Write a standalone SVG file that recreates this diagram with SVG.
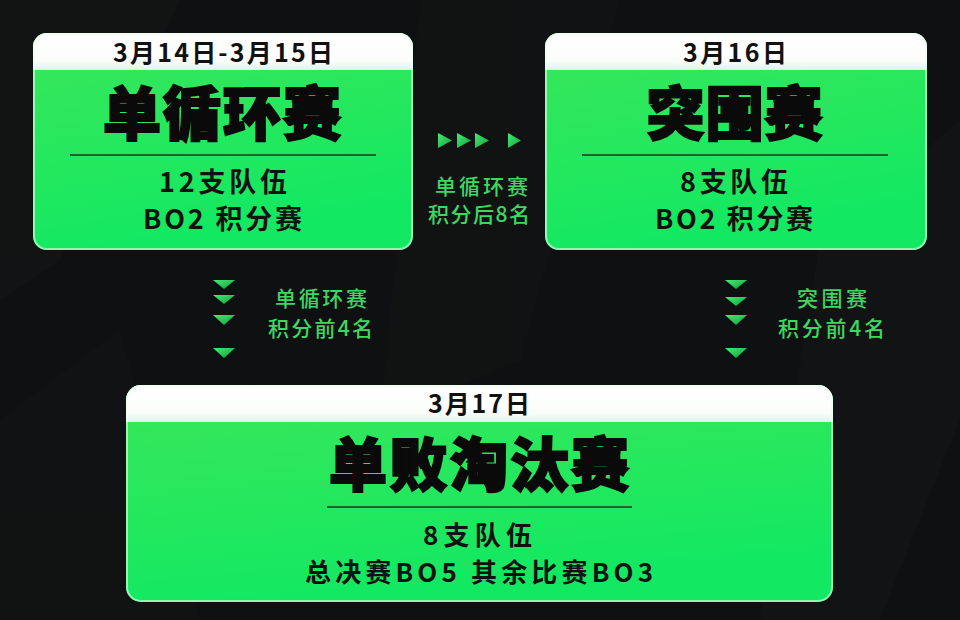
<svg xmlns="http://www.w3.org/2000/svg" width="960" height="620" viewBox="0 0 960 620">
<defs>
<linearGradient id="gfill" x1="0" y1="0" x2="0.3" y2="1">
<stop offset="0" stop-color="#3be65a"/>
<stop offset="0.6" stop-color="#22e85e"/>
<stop offset="1" stop-color="#12e862"/>
</linearGradient>
<linearGradient id="hdr" x1="0" y1="0" x2="0" y2="1">
<stop offset="0" stop-color="#ffffff"/>
<stop offset="0.75" stop-color="#fbfdfb"/>
<stop offset="1" stop-color="#e2f2e4"/>
</linearGradient>
<linearGradient id="tri" x1="0" y1="0" x2="1" y2="1">
<stop offset="0" stop-color="#3ef070"/>
<stop offset="1" stop-color="#1a9a40"/>
</linearGradient>
<clipPath id="c1"><rect x="33" y="33" width="380" height="217" rx="14"/></clipPath>
<clipPath id="c2"><rect x="545" y="33" width="382" height="217" rx="14"/></clipPath>
<clipPath id="c3"><rect x="126" y="385" width="707" height="217" rx="15"/></clipPath>
</defs>
<style>
.box{fill:url(#gfill);}
.edge{fill:none;stroke:#eafff0;stroke-opacity:0.6;stroke-width:2;}
.hd{fill:url(#hdr);}
.date{font-family:"Noto Sans CJK SC","Noto Sans",sans-serif;font-weight:700;font-size:25px;fill:#111;text-anchor:middle;}
.title{font-family:"Noto Sans CJK SC",sans-serif;font-weight:900;font-size:58px;fill:#0a0a0a;stroke:#0a0a0a;stroke-width:2.2;paint-order:stroke;text-anchor:middle;}
.sub{font-family:"Noto Sans CJK SC","Noto Sans",sans-serif;font-weight:700;font-size:27px;fill:#111;text-anchor:middle;}
.rule{stroke:#1a3a20;stroke-width:1.5;}
.lbl{font-family:"Noto Sans CJK SC","Noto Sans",sans-serif;font-weight:500;font-size:21px;fill:#3cd860;text-anchor:middle;}
.tri{fill:url(#tri);}
</style>
<rect width="960" height="620" fill="#0f1011"/>
<g opacity="0.5">
<polygon points="0,0 180,0 60,260 0,300" fill="#161718"/>
<polygon points="420,0 620,0 520,360 380,420" fill="#141516"/>
<polygon points="820,240 960,120 960,420 880,620 760,620" fill="#151617"/>
<polygon points="0,420 120,330 200,620 0,620" fill="#141516"/>
</g>

<g id="node-round-robin">
<rect class="box" x="33" y="33" width="380" height="217" rx="14"/>
<g clip-path="url(#c1)"><rect class="hd" x="33" y="33" width="380" height="37"/></g>
<rect class="edge" x="34" y="34" width="378" height="215" rx="13"/>
<text class="date" x="223" y="61.5" textLength="220" lengthAdjust="spacing">3月14日-3月15日</text>
<text class="title" x="222" y="135" textLength="238" lengthAdjust="spacing">单循环赛</text>
<line class="rule" x1="70" y1="155" x2="376" y2="155"/>
<text class="sub" x="223" y="192" textLength="128" lengthAdjust="spacing">12支队伍</text>
<text class="sub" x="222.5" y="229" textLength="159" lengthAdjust="spacing">BO2 积分赛</text>
</g>

<g id="node-breakout">
<rect class="box" x="545" y="33" width="382" height="217" rx="14"/>
<g clip-path="url(#c2)"><rect class="hd" x="545" y="33" width="382" height="37"/></g>
<rect class="edge" x="546" y="34" width="380" height="215" rx="13"/>
<text class="date" x="735" y="61.5" textLength="104" lengthAdjust="spacing">3月16日</text>
<text class="title" x="734.5" y="135" textLength="176" lengthAdjust="spacing">突围赛</text>
<line class="rule" x1="582" y1="155" x2="888" y2="155"/>
<text class="sub" x="734" y="192" textLength="108" lengthAdjust="spacing">8支队伍</text>
<text class="sub" x="734" y="229" textLength="158" lengthAdjust="spacing">BO2 积分赛</text>
</g>

<g id="node-elimination">
<rect class="box" x="126" y="385" width="707" height="217" rx="15"/>
<g clip-path="url(#c3)"><rect class="hd" x="126" y="385" width="707" height="37"/></g>
<rect class="edge" x="127" y="386" width="705" height="215" rx="14"/>
<text class="date" x="479" y="413" textLength="102" lengthAdjust="spacing">3月17日</text>
<text class="title" x="479" y="486" textLength="300" lengthAdjust="spacing">单败淘汰赛</text>
<line class="rule" x1="327" y1="507" x2="632" y2="507"/>
<text class="sub" x="477.5" y="545" textLength="109" lengthAdjust="spacing" style="font-size:26px">8支队伍</text>
<text class="sub" x="479" y="581.5" textLength="348" lengthAdjust="spacing" style="font-size:26px">总决赛BO5 其余比赛BO3</text>
</g>

<g id="connectors">
<g id="conn-rr-breakout">
<polygon class="tri" points="438,133 452,140.5 438,148"/>
<polygon class="tri" points="457,133 471,140.5 457,148"/>
<polygon class="tri" points="475,133 489,140.5 475,148"/>
<polygon class="tri" points="508,133 521,140.5 508,148"/>
<text class="lbl" x="481.5" y="194" textLength="93" lengthAdjust="spacing">单循环赛</text>
<text class="lbl" x="479" y="221.5" textLength="102" lengthAdjust="spacing">积分后8名</text>
</g>
<g id="conn-rr-elim">
<polygon class="tri" points="213,280 235,280 224,289"/>
<polygon class="tri" points="213,295 235,295 224,304"/>
<polygon class="tri" points="213,315 235,315 224,325"/>
<polygon class="tri" points="213,348 235,348 224,358"/>
<text class="lbl" x="321" y="306" textLength="92" lengthAdjust="spacing">单循环赛</text>
<text class="lbl" x="320.5" y="336" textLength="105" lengthAdjust="spacing">积分前4名</text>
</g>
<g id="conn-breakout-elim">
<polygon class="tri" points="725,280 747,280 736,289"/>
<polygon class="tri" points="725,297 747,297 736,306"/>
<polygon class="tri" points="725,315 747,315 736,325"/>
<polygon class="tri" points="725,348 747,348 736,358"/>
<text class="lbl" x="832" y="306" textLength="70" lengthAdjust="spacing">突围赛</text>
<text class="lbl" x="831.5" y="336" textLength="107" lengthAdjust="spacing">积分前4名</text>
</g>
</g>
</svg>
